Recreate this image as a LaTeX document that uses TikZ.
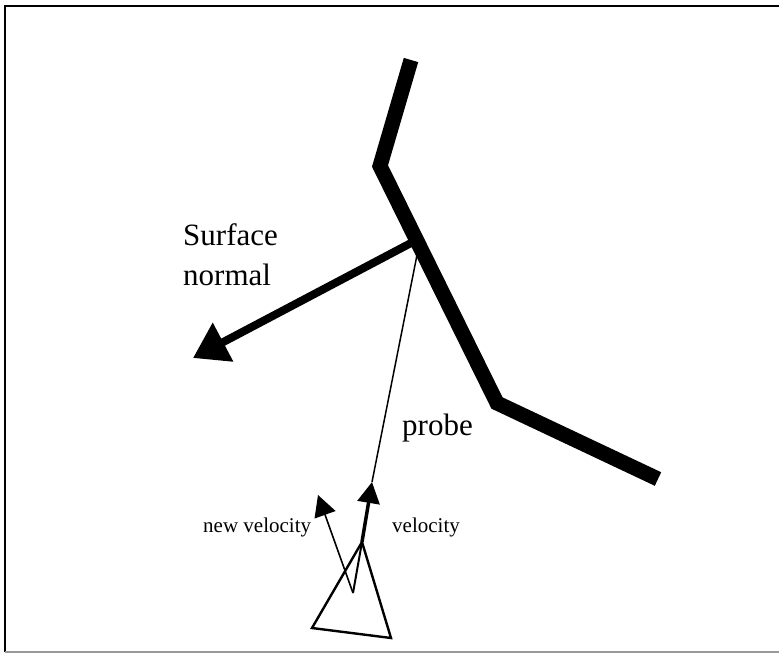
\documentclass[tikz,border=0pt]{standalone}
\usepackage{fontspec}
\setmainfont{Liberation Serif}
\usetikzlibrary{arrows.meta}
\tikzset{wall/.style={line width=15pt,line join=miter,line cap=butt},
normal/.style={line width=8pt,-{Triangle[length=34pt,width=42pt]}},
thinline/.style={line width=1.5pt},
vel/.style={line width=1.6pt,-{Triangle[length=21pt,width=22pt]}},
probebody/.style={line width=2.4pt,line join=miter},
lbl/.style={inner sep=0pt,font=\fontsize{31}{40}\selectfont},
small/.style={inner sep=0pt,font=\fontsize{21}{24}\selectfont}}

\begin{document}
\begin{tikzpicture}[x=1pt,y=-1pt]
\useasboundingbox (0,0) rectangle (779,654);
% frame
\draw[line width=2.2pt](5,652)--(5,6)--(779,6);\draw[line width=1.5pt,black!40](5,652)--(779,652);
% wall
\coordinate(w1)at(411,60);\coordinate(w2)at(380,166);\coordinate(w3)at(497,403);\coordinate(w4)at(658,479);
\draw[wall](w1)--(w2)--(w3)--(w4);
% normal and probe
\coordinate(hit)at(411,243);\coordinate(ntip)at(193,358);\coordinate(touch)at(417,255);
\draw[normal](hit)--(ntip);
\coordinate(apex)at(362,542);\coordinate(vtip)at(372,482);\coordinate(nvtip)at(318,495);\coordinate(mid)at(353,593);
\coordinate(bl)at(312,628);\coordinate(br)at(391,638);
\draw[thinline](touch)--(vtip);
\draw[vel,line width=3.5pt](apex)--(vtip);
\draw[probebody](apex)--(bl)--(br)--cycle;
\draw[thinline,line width=2pt](apex)--(mid);\draw[vel](mid)--(nvtip);
% labels
\node[lbl,anchor=north west,align=left](sn)at(183,223){Surface\\normal};
\node[lbl,anchor=base west](pr)at(402,435){probe};
\node[small,anchor=base west](nv)at(203,532){new velocity};\node[small,anchor=base west](v)at(392,532){velocity};
\end{tikzpicture}
\end{document}
